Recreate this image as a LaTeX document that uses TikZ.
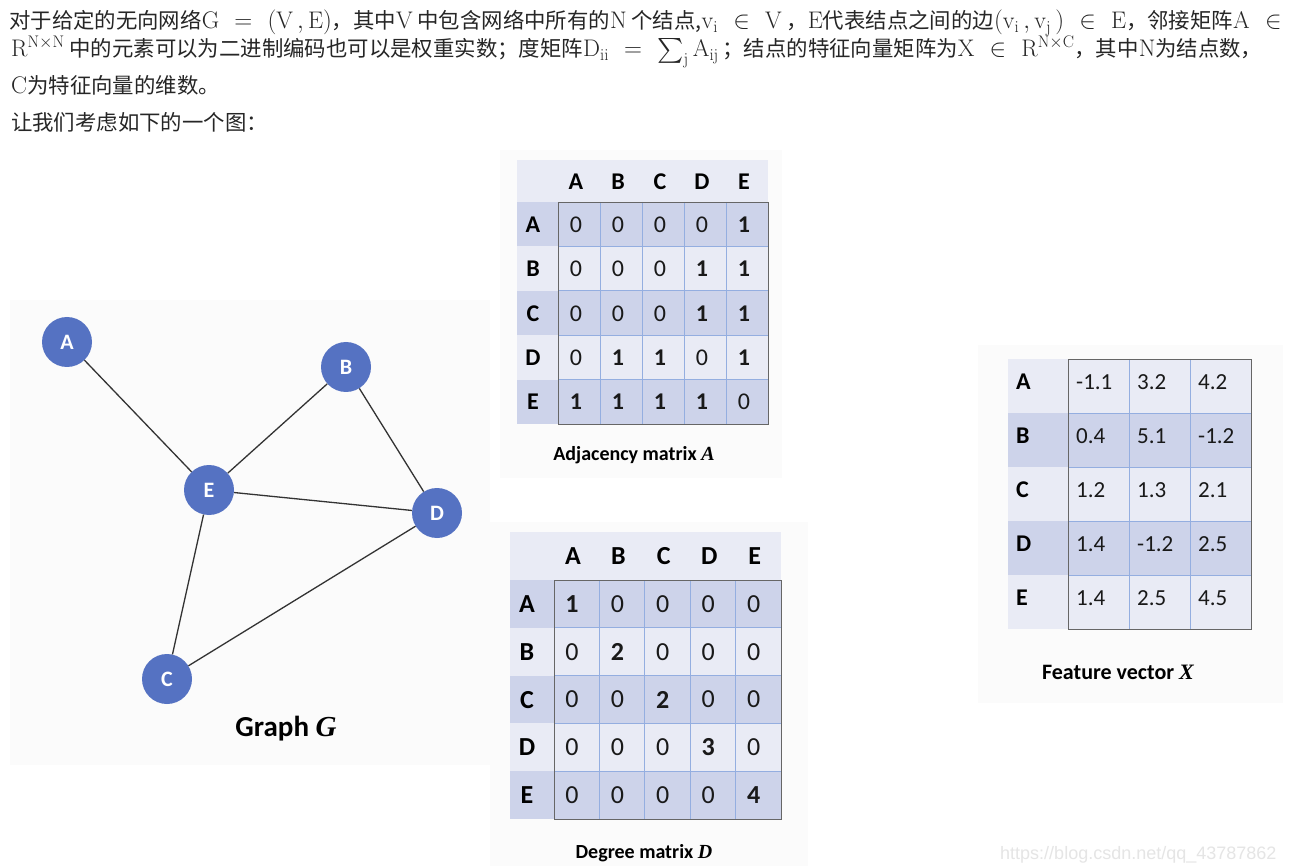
\documentclass[tikz,border=0pt]{standalone}
\usepackage{fontspec}
\usepackage{exscale}
\setmainfont{Carlito}
\setmathrm{Latin Modern Roman}
\newfontfamily\cjk{Noto Sans CJK SC}
\newfontfamily\urlfont{Liberation Sans}
\newfontfamily\capit{Liberation Serif}
% formulas in the text run a bit larger and looser than the text itself
\newcommand{\km}[1]{{\fontsize{24}{27}\selectfont\thickmuskip=11mu\medmuskip=6mu$#1$}}

\definecolor{nodeblue}{HTML}{5572C2}
\definecolor{rowdark}{HTML}{CDD3EA}
\definecolor{rowlight}{HTML}{E9EBF5}
\definecolor{gridblue}{HTML}{94AEE0}
\definecolor{panelgray}{HTML}{FBFBFB}

\tikzset{
    vertex/.style={circle, fill=nodeblue, minimum size=50pt, inner sep=0pt, text=white,
        font=\fontsize{22}{22}\selectfont\bfseries},
    edge/.style={draw=black!80, line width=1.3pt},
    cell/.style={inner sep=0pt, text=black!90, font=\fontsize{#1}{#1}\selectfont},
    rowlabel/.style={inner sep=0pt, text=black, font=\fontsize{#1}{#1}\selectfont\bfseries},
    caption/.style={inner sep=0pt, font=\fontsize{#1}{#1}\selectfont\bfseries},
    header/.style={anchor=base west, inner sep=0pt, text=black!85, text height=17pt, text depth=5pt,
        font=\fontsize{21.4}{27}\selectfont\cjk},
}

\begin{document}
\begin{tikzpicture}[x=1pt, y=-1pt]
    \useasboundingbox (0, 0) rectangle (1293, 866);
    \fill[white] (0, 0) rectangle (1293, 866);

    % text above the figure
    \node[header] (line1) at (9, 29) {对于给定的无向网络\km{\mathrm{G}=(\mathrm{V}\,,\mathrm{E})}，其中\km{\mathrm{V}} 中包含网络中所有的\km{\mathrm{N}} 个结点,\km{\mathrm{v_i}\in\mathrm{V}} ，\km{\mathrm{E}}代表结点之间的边\km{(\mathrm{v_i}\,,\mathrm{v_j}\,)\in\mathrm{E}}，邻接矩阵\km{\mathrm{A}\in}};
    \node[header] (line2) at (11, 57) {\km{\mathrm{R}^{\mathrm{N}\times\mathrm{N}}} 中的元素可以为二进制编码也可以是权重实数；度矩阵\km{\mathrm{D_{ii}}=\sum_{\mathrm{j}}\mathrm{A_{ij}}}\,；结点的特征向量矩阵为\km{\mathrm{X}\in\mathrm{R}^{\mathrm{N}\times\mathrm{C}}}，其中\km{\mathrm{N}}为结点数，};
    \node[header] (line3) at (11, 94) {\km{\mathrm{C}}为特征向量的维数。};
    \node[header] (line4) at (11, 131) {让我们考虑如下的一个图：};

    % graph G
    \fill[panelgray] (10, 300) rectangle (490, 765);
    \node[vertex] (vA) at (67, 342) {A};
    \node[vertex] (vB) at (346, 367) {B};
    \node[vertex] (vE) at (209, 490) {E};
    \node[vertex] (vD) at (437, 513) {D};
    \node[vertex] (vC) at (167, 679) {C};
    \draw[edge] (vA) -- (vE);
    \draw[edge] (vB) -- (vE);
    \draw[edge] (vB) -- (vD);
    \draw[edge] (vE) -- (vD);
    \draw[edge] (vE) -- (vC);
    \draw[edge] (vC) -- (vD);
    \node[caption=29] (capG) at (286, 729) {Graph {\capit\itshape G}};

    % adjacency matrix
    \fill[panelgray] (500, 150) rectangle (782, 478);
    \fill[rowlight] (517, 160) rectangle (768, 202);
    \foreach \lab [count=\j] in {A,B,C,D,E} {
        \pgfmathsetmacro{\xm}{558 + 42*(\j - 1) + 18}
        \node[rowlabel=24] (adjc\j) at (\xm, 182) {\lab};
    }
    \foreach \lab/\vals [count=\i] in {A/{0,0,0,0,1}, B/{0,0,0,1,1}, C/{0,0,0,1,1}, D/{0,1,1,0,1}, E/{1,1,1,1,0}} {
        \pgfmathsetmacro{\yt}{202 + 44.4*(\i - 1)}
        \pgfmathsetmacro{\ym}{\yt + 22.5}
        \ifodd\i \def\shade{rowdark}\else\def\shade{rowlight}\fi
        \fill[\shade] (517, \yt) rectangle (768, \yt + 44.4);
        \node[rowlabel=24] (adjr\i) at (533, \ym) {\lab};
        \foreach \v [count=\j] in \vals {
            \pgfmathsetmacro{\xm}{558 + 42*(\j - 1) + 18}
            \node[cell=24] (adj\i\j) at (\xm, \ym) {\ifnum\v=0 \v\else\textbf{\v}\fi};
        }
    }
    \foreach \j in {1,...,4} {
        \draw[gridblue, line width=0.8pt] (558 + 42*\j, 202) -- (558 + 42*\j, 424);
        \draw[gridblue, line width=0.8pt] (558, 202 + 44.4*\j) -- (768, 202 + 44.4*\j);
    }
    \draw[black!60, line width=0.9pt] (558, 202) rectangle (768, 424);
    \node[caption=20] (capA) at (634, 455) {Adjacency matrix {\capit\itshape A}};

    % degree matrix
    \fill[panelgray] (490, 522) rectangle (808, 866);
    \fill[rowlight] (510, 532) rectangle (781, 580);
    \foreach \lab [count=\j] in {A,B,C,D,E} {
        \pgfmathsetmacro{\xm}{554 + 45.4*(\j - 1) + 19}
        \node[rowlabel=26] (degc\j) at (\xm, 556) {\lab};
    }
    \foreach \lab/\vals [count=\i] in {A/{1,0,0,0,0}, B/{0,2,0,0,0}, C/{0,0,2,0,0}, D/{0,0,0,3,0}, E/{0,0,0,0,4}} {
        \pgfmathsetmacro{\yt}{580 + 47.8*(\i - 1)}
        \pgfmathsetmacro{\ym}{\yt + 24}
        \ifodd\i \def\shade{rowdark}\else\def\shade{rowlight}\fi
        \fill[\shade] (510, \yt) rectangle (781, \yt + 47.8);
        \node[rowlabel=26] (degr\i) at (527, \ym) {\lab};
        \foreach \v [count=\j] in \vals {
            \pgfmathsetmacro{\xm}{554 + 45.4*(\j - 1) + 18}
            \node[cell=26] (deg\i\j) at (\xm, \ym) {\ifnum\v=0 \v\else\textbf{\v}\fi};
        }
    }
    \foreach \j in {1,...,4} {
        \draw[gridblue, line width=0.8pt] (554 + 45.4*\j, 580) -- (554 + 45.4*\j, 819);
        \draw[gridblue, line width=0.8pt] (554, 580 + 47.8*\j) -- (781, 580 + 47.8*\j);
    }
    \draw[black!60, line width=0.9pt] (554, 580) rectangle (781, 819);
    \node[caption=20] (capD) at (644, 853) {Degree matrix {\capit\itshape D}};

    % feature vector
    \fill[panelgray] (978, 345) rectangle (1283, 703);
    \foreach \lab/\vals [count=\i] in {A/{-1.1,3.2,4.2}, B/{0.4,5.1,-1.2}, C/{1.2,1.3,2.1}, D/{1.4,-1.2,2.5}, E/{1.4,2.5,4.5}} {
        \pgfmathsetmacro{\yt}{359 + 54*(\i - 1)}
        \pgfmathsetmacro{\ym}{\yt + 23}
        \ifodd\i \def\shade{rowlight}\else\def\shade{rowdark}\fi
        \fill[\shade] (1008, \yt) rectangle (1251, \yt + 54);
        \node[rowlabel=24, anchor=west] (featr\i) at (1016, \ym) {\lab};
        \foreach \v [count=\j] in \vals {
            \pgfmathsetmacro{\xl}{1068 + 61*(\j - 1) + 8}
            \node[cell=23, anchor=west] (feat\i\j) at (\xl, \ym) {\v};
        }
    }
    \foreach \j in {1,2} {
        \draw[gridblue, line width=0.8pt] (1068 + 61*\j, 359) -- (1068 + 61*\j, 629);
    }
    \foreach \j in {1,...,4} {
        \draw[gridblue, line width=0.8pt] (1068, 359 + 54*\j) -- (1251, 359 + 54*\j);
    }
    \draw[black!60, line width=0.9pt] (1068, 359) rectangle (1251, 629);
    \node[caption=22] (capX) at (1118, 672) {Feature vector {\capit\itshape X}};

    % watermark
    \node[anchor=base west, inner sep=0pt, text=black!10, font=\fontsize{18}{18}\urlfont] (wm) at (1000, 859) {https://blog.csdn.net/qq\_43787862};
\end{tikzpicture}
\end{document}
